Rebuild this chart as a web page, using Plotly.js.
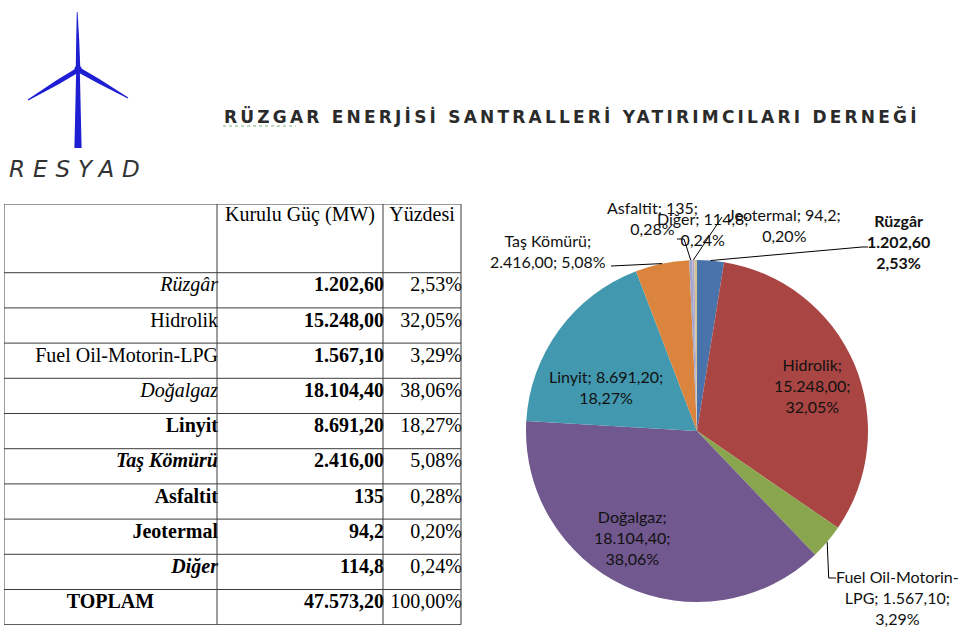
<!DOCTYPE html>
<html>
<head>
<meta charset="utf-8">
<script src="https://cdn.plot.ly/plotly-3.0.1.min.js"></script>
<style>
html, body { margin: 0; padding: 0; background: #fff; }
#chart { width: 960px; height: 627px; }
g.annotation[data-index="0"] text { letter-spacing: 3.2px; }
g.annotation[data-index="1"] text { letter-spacing: 8px; }
</style>
</head>
<body>
<div id="chart"></div>
<script>
// ---------------- data ----------------
const categories = ["Rüzgâr", "Hidrolik", "Fuel Oil-Motorin-LPG", "Doğalgaz", "Linyit", "Taş Kömürü", "Asfaltit", "Jeotermal", "Diğer"];
const capacityMW = [1202.6, 15248.0, 1567.1, 18104.4, 8691.2, 2416.0, 135, 94.2, 114.8];
const mwDecimals = [2, 2, 2, 2, 2, 2, 0, 1, 1];
const sharePct = [2.53, 32.05, 3.29, 38.06, 18.27, 5.08, 0.28, 0.20, 0.24];
const totalLabel = "TOPLAM";
const totalMW = 47573.2;      // as printed in the table
const totalPct = 100.00;
const headerLabels = ["Kurulu Güç (MW)", "Yüzdesi"];
const titleText = "RÜZGAR ENERJİSİ SANTRALLERİ YATIRIMCILARI DERNEĞİ";
const logoText = "RESYAD";

// ---------------- styles ----------------
const sliceColors = ["#4A72AB", "#A94643", "#89A64E", "#71588F", "#4298AF", "#DB843D", "#A3A6CC", "#B4A9C9", "#D2C492"];
const nameStyle = ["i", "", "", "i", "b", "bi", "b", "b", "bi"];
const labelNames = ["Rüzgâr", "Hidrolik", "Fuel Oil-Motorin-<br>LPG", "Doğalgaz", "Linyit", "Taş Kömürü", "Asfaltit", "Jeotermal", "Diğer"];
const sepA = ["<br>", ";<br>", "; ", ";<br>", "; ", ";<br>", "; ", "; ", "; "];
const sepB = ["<br>", ";<br>", ";<br>", ";<br>", ";<br>", "; ", ";<br>", ";<br>", ";<br>"];
const labelPos = [[898, 241], [812, 385], [897, 597], [632, 537], [606, 387], [548, 251], [652, 218], [784, 225], [703, 229]];

const W = 960, H = 627;
const px = x => x / W, py = y => 1 - y / H;
const closedPath = pts => 'M' + pts.map(p => px(p[0]) + ',' + py(p[1])).join('L') + 'Z';
const openPath = pts => 'M' + pts.map(p => px(p[0]) + ',' + py(p[1])).join('L');

function trNum(v, d) {
  const s = v.toFixed(d);
  const parts = s.split('.');
  const i = parts[0].replace(/\B(?=(\d{3})+(?!\d))/g, '.');
  return parts.length > 1 ? i + ',' + parts[1] : i;
}
function wrapStyle(t, st) {
  let s = t;
  if (st.indexOf('i') >= 0) s = '<i>' + s + '</i>';
  if (st.indexOf('b') >= 0) s = '<b>' + s + '</b>';
  return s;
}

const mwText = capacityMW.map((v, i) => trNum(v, mwDecimals[i]));
const pctText = sharePct.map(p => trNum(p, 2) + '%');

// ---------------- table geometry (pixel units on hidden axes) ----------------
const colEdges = [0, 213, 379, 457];
const headerH = 68.7, rowH = 35.2;
const rowCount = categories.length + 1;
const tableH = headerH + rowCount * rowH;
const rowMid = k => headerH + k * rowH + rowH / 2 - 4;

const tableFont = { family: "Liberation Serif, Times New Roman, serif", size: 20, color: "#000" };
const textTrace = (xs, ys, texts, pos) => ({
  type: 'scatter', mode: 'text', x: xs, y: ys, text: texts, textposition: pos,
  textfont: tableFont, cliponaxis: false, hoverinfo: 'skip', showlegend: false,
  xaxis: 'x', yaxis: 'y'
});

const rowsY = categories.map((c, i) => rowMid(i));
const traces = [];
traces.push(textTrace(categories.map(() => colEdges[1] + 1), rowsY, categories.map((c, i) => wrapStyle(c, nameStyle[i])), 'middle left'));
traces.push(textTrace(categories.map(() => colEdges[2] + 1), rowsY, mwText.map(t => '<b>' + t + '</b>'), 'middle left'));
traces.push(textTrace(categories.map(() => colEdges[3] + 1), rowsY, pctText, 'middle left'));
traces.push(textTrace([(colEdges[0] + colEdges[1]) / 2], [rowMid(categories.length)], ['<b>' + totalLabel + '</b>'], 'middle center'));
traces.push(textTrace([colEdges[2] + 1, colEdges[3] + 1], [rowMid(categories.length), rowMid(categories.length)], ['<b>' + trNum(totalMW, 2) + '</b>', trNum(totalPct, 2) + '%'], 'middle left'));
traces.push(textTrace([(colEdges[1] + colEdges[2]) / 2, (colEdges[2] + colEdges[3]) / 2], [12, 12], headerLabels, 'middle center'));

// ---------------- pie ----------------
const PIE_CX = 697, PIE_CY = 431, PIE_R = 171;
traces.push({
  type: 'pie', values: capacityMW, labels: categories, sort: false, direction: 'clockwise', rotation: 0,
  marker: { colors: sliceColors, line: { width: 0 } }, textinfo: 'none', hoverinfo: 'label+value+percent',
  showlegend: false,
  domain: { x: [px(PIE_CX - PIE_R), px(PIE_CX + PIE_R)], y: [py(PIE_CY + PIE_R), py(PIE_CY - PIE_R)] }
});

const sumMW = capacityMW.reduce((a, b) => a + b, 0);
let cum = 0;
const midAng = capacityMW.map(v => { const a = (cum + v / 2) / sumMW * 2 * Math.PI; cum += v; return a; });
const edge = i => [PIE_CX + PIE_R * Math.sin(midAng[i]), PIE_CY - PIE_R * Math.cos(midAng[i])];

// ---------------- shapes ----------------
const shapes = [];
const lineStyle = { color: '#3c3c3c', width: 1 };
for (let k = 0; k <= rowCount; k++) {
  const y = k === 0 ? 0 : headerH + (k - 1) * rowH;
  shapes.push({ type: 'line', xref: 'x', yref: 'y', x0: colEdges[0], x1: colEdges[3], y0: y, y1: y, line: lineStyle });
}
shapes.push({ type: 'line', xref: 'x', yref: 'y', x0: colEdges[0], x1: colEdges[3], y0: tableH, y1: tableH, line: lineStyle });
colEdges.forEach(x => shapes.push({ type: 'line', xref: 'x', yref: 'y', x0: x, x1: x, y0: 0, y1: tableH, line: lineStyle }));

// logo turbine
const blue = '#1E1ED2';
const logoParts = [
  [[76.2, 70], [79.8, 70], [81.6, 148], [74.4, 148]],
  [[75.8, 66], [76.2, 40], [76.8, 12], [77.6, 12], [79.2, 40], [80.2, 66]],
  [[76.7, 67.9], [56.9, 80.1], [27.7, 99.6], [28.3, 100.4], [59.1, 83.9], [79.3, 72.1]],
  [[80.2, 67.8], [99.7, 79.3], [128.2, 97.6], [127.8, 98.4], [97.5, 83.1], [77.8, 72.2]]
];
logoParts.forEach(p => shapes.push({ type: 'path', xref: 'paper', yref: 'paper', path: closedPath(p), fillcolor: blue, line: { width: 0 } }));
shapes.push({ type: 'circle', xref: 'paper', yref: 'paper', x0: px(74.5), x1: px(81.5), y0: py(72.5), y1: py(65.5), fillcolor: blue, line: { width: 0 } });
// spell-check underline under RÜZGAR
shapes.push({ type: 'line', xref: 'paper', yref: 'paper', x0: px(223), x1: px(296), y0: py(126), y1: py(126), line: { color: '#7FB27F', width: 1.2, dash: 'dot' } });

// leader lines
const leaders = [
  [[611, 266], edge(5)],
  [edge(0), [862, 247], [868, 247]],
  [edge(2), [edge(2)[0] + 1.5, 578], [836, 578]],
  [[677, 239], [684, 239], edge(6)],
  [[722, 217], edge(7)]
];
leaders.forEach(p => shapes.push({ type: 'path', xref: 'paper', yref: 'paper', path: openPath(p), line: { color: '#000', width: 1 } }));

// ---------------- annotations ----------------
const annotations = [];
annotations.push({ xref: 'paper', yref: 'paper', x: px(222), y: py(116), xanchor: 'left', yanchor: 'middle', align: 'left', showarrow: false,
  text: titleText, font: { family: 'DejaVu Sans, sans-serif', size: 17, color: '#2b2b2b', weight: 'bold' } });
annotations.push({ xref: 'paper', yref: 'paper', x: px(7), y: py(169), xanchor: 'left', yanchor: 'middle', align: 'left', showarrow: false,
  text: logoText, font: { family: 'DejaVu Sans, sans-serif', size: 23, color: '#333', weight: 200, style: 'italic' } });

categories.forEach((c, i) => {
  let t = labelNames[i] + sepA[i] + mwText[i] + sepB[i] + pctText[i];
  if (i === 0) t = '<b>' + t + '</b>';
  annotations.push({ xref: 'paper', yref: 'paper', x: px(labelPos[i][0]), y: py(labelPos[i][1]), xanchor: 'center', yanchor: 'middle',
    showarrow: false, align: 'center', text: t, font: { family: 'Lato, sans-serif', size: 16, color: '#111' } });
});

const layout = {
  width: W, height: H, margin: { l: 0, r: 0, t: 0, b: 0 }, paper_bgcolor: '#fff', plot_bgcolor: 'rgba(0,0,0,0)',
  showlegend: false,
  xaxis: { domain: [px(4), px(468)], range: [0, 464], visible: false, fixedrange: true },
  yaxis: { domain: [py(625), py(204)], range: [421, 0], visible: false, fixedrange: true },
  shapes: shapes, annotations: annotations
};

Plotly.newPlot('chart', traces, layout, { displayModeBar: false, staticPlot: true });
</script>
</body>
</html>
